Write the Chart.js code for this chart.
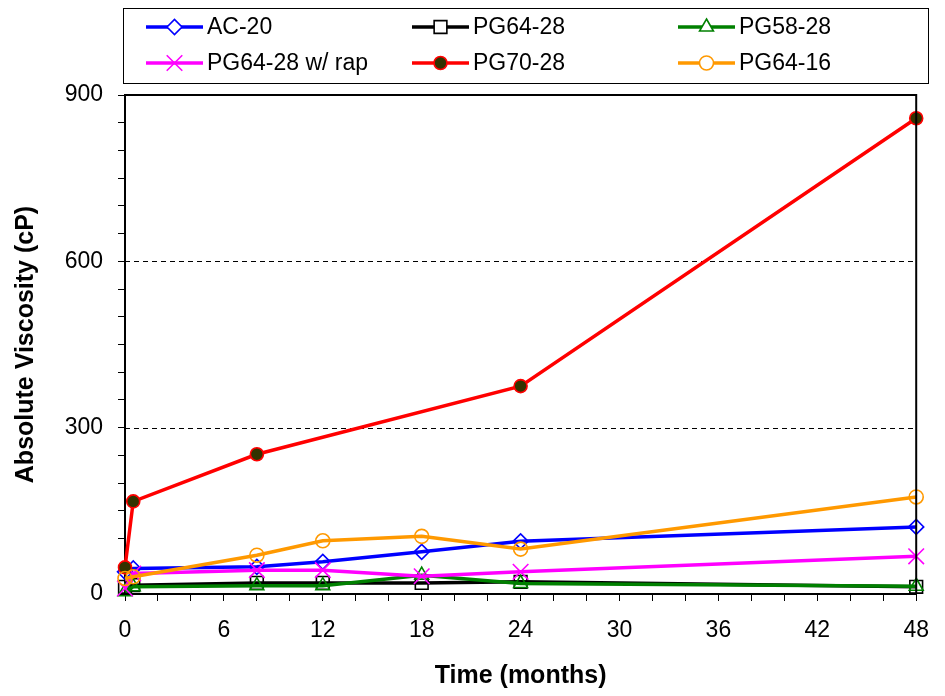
<!DOCTYPE html>
<html>
<head>
<meta charset="utf-8">
<script src="https://cdn.jsdelivr.net/npm/chart.js@4/dist/chart.umd.min.js"></script>
<style>
  html, body { margin: 0; padding: 0; background: #fff; }
  canvas { display: block; }
</style>
</head>
<body>
<canvas id="grafico" width="945" height="696"></canvas>
<script>
// ===== DATA =====
const months = [0, 0.5, 8, 12, 18, 24, 48];

const ac20      = [40, 46, 49, 58, 76, 95, 121];
const pg6428    = [13, 16, 20, 20, 20, 22, 13];
const pg5828    = [4, 13, 15, 15, 34, 19, 14];
const pg6428rap = [10, 37, 43, 43, 32, 40, 68];
const pg7028    = [48, 167, 252, null, null, 375, 858];
const pg6416    = [28, 31, 70, 96, 104, 81, 175];

const seriesNames = ['AC-20', 'PG64-28', 'PG58-28', 'PG64-28 w/ rap', 'PG70-28', 'PG64-16'];

const xTickLabels = [0, 6, 12, 18, 24, 30, 36, 42, 48];
const yTickLabels = [0, 300, 600, 900];
const dashedLines = [300, 600];

const FONT = '"Liberation Sans", Arial, sans-serif';

// ===== ESTILO DAS SERIES =====
const estilos = [
  { cor: '#0000FF', ponto: 'rectRot',  raio: 7.5, fundo: 'rgba(0,0,0,0)' },
  { cor: '#000000', ponto: 'rect',     raio: 9,   fundo: 'rgba(0,0,0,0)' },
  { cor: '#008000', ponto: 'triangle', raio: 8,   fundo: 'rgba(0,0,0,0)' },
  { cor: '#FF00FF', ponto: 'crossRot', raio: 11,  fundo: 'rgba(0,0,0,0)' },
  { cor: '#FF0000', ponto: 'circle',   raio: 6.5, fundo: '#333300' },
  { cor: '#FF9900', ponto: 'circle',   raio: 7,   fundo: 'rgba(0,0,0,0)' }
];

const valores = [ac20, pg6428, pg5828, pg6428rap, pg7028, pg6416];

const datasets = valores.map((vals, i) => ({
  label: seriesNames[i],
  data: months.map((m, j) => ({ x: m, y: vals[j] })),
  borderColor: estilos[i].cor,
  backgroundColor: estilos[i].fundo,
  pointStyle: estilos[i].ponto,
  pointRadius: estilos[i].raio,
  pointBorderColor: estilos[i].cor,
  pointBackgroundColor: estilos[i].fundo,
  pointBorderWidth: 1.6,
  borderWidth: 3.5,
  tension: 0,
  spanGaps: true,
  clip: false,
  order: valores.length - i
}));

// ===== PLUGINS =====
const moldura = {
  id: 'moldura',
  beforeDatasetsDraw(chart) {
    const { ctx, chartArea, scales } = chart;
    ctx.save();
    ctx.strokeStyle = '#000';
    ctx.lineWidth = 1;
    ctx.setLineDash([5, 4]);
    dashedLines.forEach(v => {
      const y = Math.round(scales.y.getPixelForValue(v)) + 0.5;
      ctx.beginPath();
      ctx.moveTo(chartArea.left, y);
      ctx.lineTo(chartArea.right, y);
      ctx.stroke();
    });
    ctx.restore();
  },
  afterDraw(chart) {
    const { ctx, chartArea } = chart;
    ctx.save();
    ctx.strokeStyle = '#000';
    ctx.lineWidth = 2;
    ctx.beginPath();
    ctx.moveTo(chartArea.left, chartArea.top);
    ctx.lineTo(chartArea.right, chartArea.top);
    ctx.lineTo(chartArea.right, chartArea.bottom);
    ctx.stroke();
    ctx.restore();
  }
};

const legenda = {
  id: 'legenda',
  afterDraw(chart) {
    const ctx = chart.ctx;
    ctx.save();
    ctx.strokeStyle = '#000';
    ctx.lineWidth = 1;
    ctx.strokeRect(123.5, 8.5, 805, 75);

    ctx.font = '23px ' + FONT;
    ctx.textBaseline = 'middle';
    ctx.fillStyle = '#000';

    seriesNames.forEach((nome, i) => {
      const col = i % 3;
      const lin = Math.floor(i / 3);
      const x0 = 146 + col * 266;
      const y = lin === 0 ? 27 : 63;
      const e = estilos[i];

      ctx.strokeStyle = e.cor;
      ctx.lineWidth = 3.5;
      ctx.beginPath();
      ctx.moveTo(x0, y);
      ctx.lineTo(x0 + 57, y);
      ctx.stroke();

      ctx.fillStyle = e.fundo === 'rgba(0,0,0,0)' ? '#fff' : e.fundo;
      ctx.strokeStyle = e.cor;
      ctx.lineWidth = 1.6;
      Chart.helpers.drawPoint(ctx, {
        pointStyle: e.ponto,
        radius: e.raio,
        rotation: 0,
        borderWidth: 1.6
      }, x0 + 28.5, y);

      ctx.fillStyle = '#000';
      ctx.fillText(nome, x0 + 61, y + 1);
    });
    ctx.restore();
  }
};

// ===== GRAFICO =====
new Chart(document.getElementById('grafico'), {
  type: 'line',
  data: { datasets },
  options: {
    responsive: false,
    animation: false,
    layout: { padding: { top: 95, right: 19, left: 0, bottom: 0 } },
    plugins: {
      legend: { display: false },
      tooltip: { enabled: false }
    },
    scales: {
      x: {
        type: 'linear',
        min: 0,
        max: 48,
        afterFit(s) { s.height = 102; },
        ticks: {
          stepSize: 2,
          autoSkip: false,
          maxRotation: 0,
          padding: 16,
          color: '#000',
          font: { family: FONT, size: 23 },
          callback: v => xTickLabels.includes(v) ? String(v) : ''
        },
        grid: {
          drawOnChartArea: false,
          tickLength: 7,
          tickColor: '#000',
          tickWidth: 1
        },
        border: { color: '#000', width: 2 },
        title: {
          display: true,
          text: 'Time (months)',
          color: '#000',
          font: { family: FONT, size: 25, weight: 'bold' },
          padding: { top: 0, bottom: 5 }
        }
      },
      y: {
        min: 0,
        max: 900,
        afterFit(s) { s.width = 125; },
        ticks: {
          stepSize: 50,
          autoSkip: false,
          padding: 15,
          color: '#000',
          font: { family: FONT, size: 23 },
          callback: v => yTickLabels.includes(v) ? String(v) : ''
        },
        grid: {
          drawOnChartArea: false,
          tickLength: 7,
          tickColor: '#000',
          tickWidth: 1
        },
        border: { color: '#000', width: 2 },
        title: {
          display: true,
          text: 'Absolute Viscosity (cP)',
          color: '#000',
          font: { family: FONT, size: 25, weight: 'bold' },
          padding: { top: 11, bottom: 0 }
        }
      }
    }
  },
  plugins: [moldura, legenda]
});
</script>
</body>
</html>
